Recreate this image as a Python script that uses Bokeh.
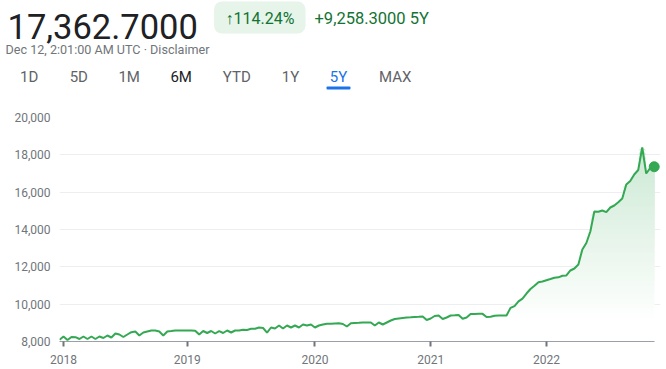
from bokeh.plotting import figure
from bokeh.models import Range1d, Label, BoxAnnotation, NumeralTickFormatter, FixedTicker
from bokeh.embed import file_html
from bokeh.resources import INLINE

# ---- data ----
values = [
    8090, 8268, 8080, 8241, 8230, 8134, 8268, 8134, 8268, 8134,
    8268, 8187, 8321, 8214, 8429, 8375, 8241, 8375, 8498, 8536,
    8321, 8482, 8536, 8589, 8589, 8536, 8321, 8536, 8562, 8589,
    8590, 8585, 8595, 8590, 8580, 8375, 8562, 8455, 8562, 8429,
    8552, 8455, 8589, 8482, 8589, 8589, 8627, 8616, 8680, 8680,
    8750, 8723, 8480, 8750, 8696, 8857, 8696, 8857, 8750, 8857,
    8750, 8911, 8857, 8911, 8750, 8857, 8911, 8948, 8948, 8964,
    8980, 8938, 8804, 8980, 8991, 9002, 9018, 9018, 9018, 8857,
    9018, 8911, 9018, 9125, 9205, 9232, 9259, 9286, 9296, 9312,
    9323, 9339, 9152, 9232, 9366, 9393, 9205, 9286, 9393, 9404,
    9420, 9216, 9286, 9473, 9473, 9484, 9480, 9312, 9323, 9382,
    9393, 9390, 9395, 9800, 9900, 10150, 10300, 10571, 10812, 10984,
    11177, 11214, 11284, 11348, 11413, 11439, 11525, 11536, 11804, 11911,
    12125, 12929, 13277, 13893, 14964, 14950, 15018, 14930, 15179, 15286,
    15462, 15661, 16411, 16598, 16946, 17187, 18393, 17000, 17295, 17362.7,
]
idx = list(range(len(values)))
year_tick_idx = [1, 32, 64, 93, 122]
year_labels = ["2018", "2019", "2020", "2021", "2022"]
y_ticks = [8000, 10000, 12000, 14000, 16000, 18000, 20000]

price_text = "17,362.7000"
change_pct_text = "\u2191114.24%"
change_abs_text = "+9,258.3000 5Y"
date_text = "Dec 12, 2:01:00 AM UTC \u00b7 Disclaimer"
tabs = ["1D", "5D", "1M", "6M", "YTD", "1Y", "5Y", "MAX"]
active_tab = "5Y"

GREEN = "#34a853"
FONT = "Roboto"
HEAD_H = 100
DY = -4.5  # baseline correction for label rendering

# ---------------- header (pixel-space figure) ----------------
h = figure(width=666, height=HEAD_H, output_backend="svg", toolbar_location=None,
           x_axis_location=None, y_axis_location=None,
           x_range=Range1d(0, 666), y_range=Range1d(HEAD_H, 0),
           min_border=0, min_border_left=0, min_border_right=0,
           min_border_top=0, min_border_bottom=0)
h.grid.visible = False
h.outline_line_color = None
h.background_fill_color = "white"
h.border_fill_color = "white"

h.add_layout(Label(x=7, y=30.5 + DY, text=price_text, text_font=FONT,
                   text_font_size="34.5px", text_color="#202124",
                   text_baseline="alphabetic"))
h.add_layout(BoxAnnotation(left=213.5, right=305, top=1, bottom=33,
                           fill_color="#e6f4ea", fill_alpha=1, line_color=None,
                           border_radius=8))
h.add_layout(Label(x=225, y=22.3 + DY, text=change_pct_text, text_font=FONT,
                   text_font_size="16px", text_color="#137333",
                   text_baseline="alphabetic"))
h.add_layout(Label(x=314, y=22.3 + DY, text=change_abs_text, text_font=FONT,
                   text_font_size="16.5px", text_color="#137333",
                   text_baseline="alphabetic"))
h.add_layout(Label(x=5, y=53 + DY, text=date_text, text_font=FONT,
                   text_font_size="12.6px", text_color="#70757a",
                   text_baseline="alphabetic"))

tab_centers = [28.7, 78.3, 128.7, 180.7, 236.3, 290, 338, 394.7]
for t, c in zip(tabs, tab_centers):
    col = "#1a73e8" if t == active_tab else ("#202124" if t == "6M" else "#5f6368")
    h.add_layout(Label(x=c, y=81.3 + DY, text=t, text_font=FONT, text_font_size="15px",
                       text_color=col, text_align="center", text_baseline="alphabetic"))
h.add_layout(BoxAnnotation(left=326, right=350, top=86, bottom=89,
                           fill_color="#1a73e8", fill_alpha=1, line_color=None,
                           border_radius=1))

# ---------------- chart ----------------
FL = 59
x_end = (len(values) - 1) * (660 - 58.7) / (653.7 - 58.7)

p = figure(width=666, height=369 - HEAD_H, output_backend="svg", toolbar_location=None,
           x_range=Range1d(0, x_end), y_range=Range1d(8000, 20000),
           min_border_left=FL, min_border_right=6, min_border_top=117 - HEAD_H,
           min_border_bottom=28)
p.outline_line_color = None
p.background_fill_color = "white"
p.border_fill_color = "white"

p.xgrid.visible = False
p.ygrid.ticker = FixedTicker(ticks=y_ticks)
p.ygrid.grid_line_color = "#eceef0"
p.ygrid.grid_line_width = 1

p.yaxis.ticker = FixedTicker(ticks=y_ticks)
p.yaxis.formatter = NumeralTickFormatter(format="0,0")
p.yaxis.axis_line_color = None
p.yaxis.major_tick_line_color = None
p.yaxis.minor_tick_line_color = None
p.yaxis.major_tick_out = 0
p.yaxis.major_tick_in = 0
p.yaxis.major_label_standoff = 9
p.yaxis.major_label_text_font = FONT
p.yaxis.major_label_text_font_size = "12px"
p.yaxis.major_label_text_color = "#70757a"

p.xaxis.ticker = FixedTicker(ticks=year_tick_idx)
p.xaxis.major_label_overrides = {t: l for t, l in zip(year_tick_idx, year_labels)}
p.xaxis.bounds = (0, len(values) - 1)
p.xaxis.axis_line_color = "#9aa0a6"
p.xaxis.axis_line_width = 1
p.xaxis.major_tick_line_color = "#70757a"
p.xaxis.major_tick_line_width = 2
p.xaxis.major_tick_out = 5
p.xaxis.major_tick_in = 0
p.xaxis.minor_tick_line_color = None
p.xaxis.major_label_standoff = 8
p.xaxis.major_label_text_font = FONT
p.xaxis.major_label_text_font_size = "12px"
p.xaxis.major_label_text_color = "#70757a"

# gradient fill: opaque layers, each covering from its level up to the line,
# drawn bottom to top so higher (greener) layers paint over lower ones
levels = list(range(9000, 18700, 250))
g = (0x34, 0xa8, 0x53)
for k, lo in enumerate(levels):
    a = 0.26 * (lo - levels[0]) / (levels[-1] - levels[0])
    c = "#%02x%02x%02x" % tuple(round(255 * (1 - a) + ch * a) for ch in g)
    p.varea(x=idx, y1=[lo] * len(values), y2=[max(v, lo) for v in values],
            fill_color=c, fill_alpha=1)

p.line(idx, values, line_color=GREEN, line_width=2)
p.scatter([idx[-1]], [values[-1]], size=10, fill_color=GREEN, line_color=GREEN)

open("out.html", "w").write(file_html([h, p], INLINE))
